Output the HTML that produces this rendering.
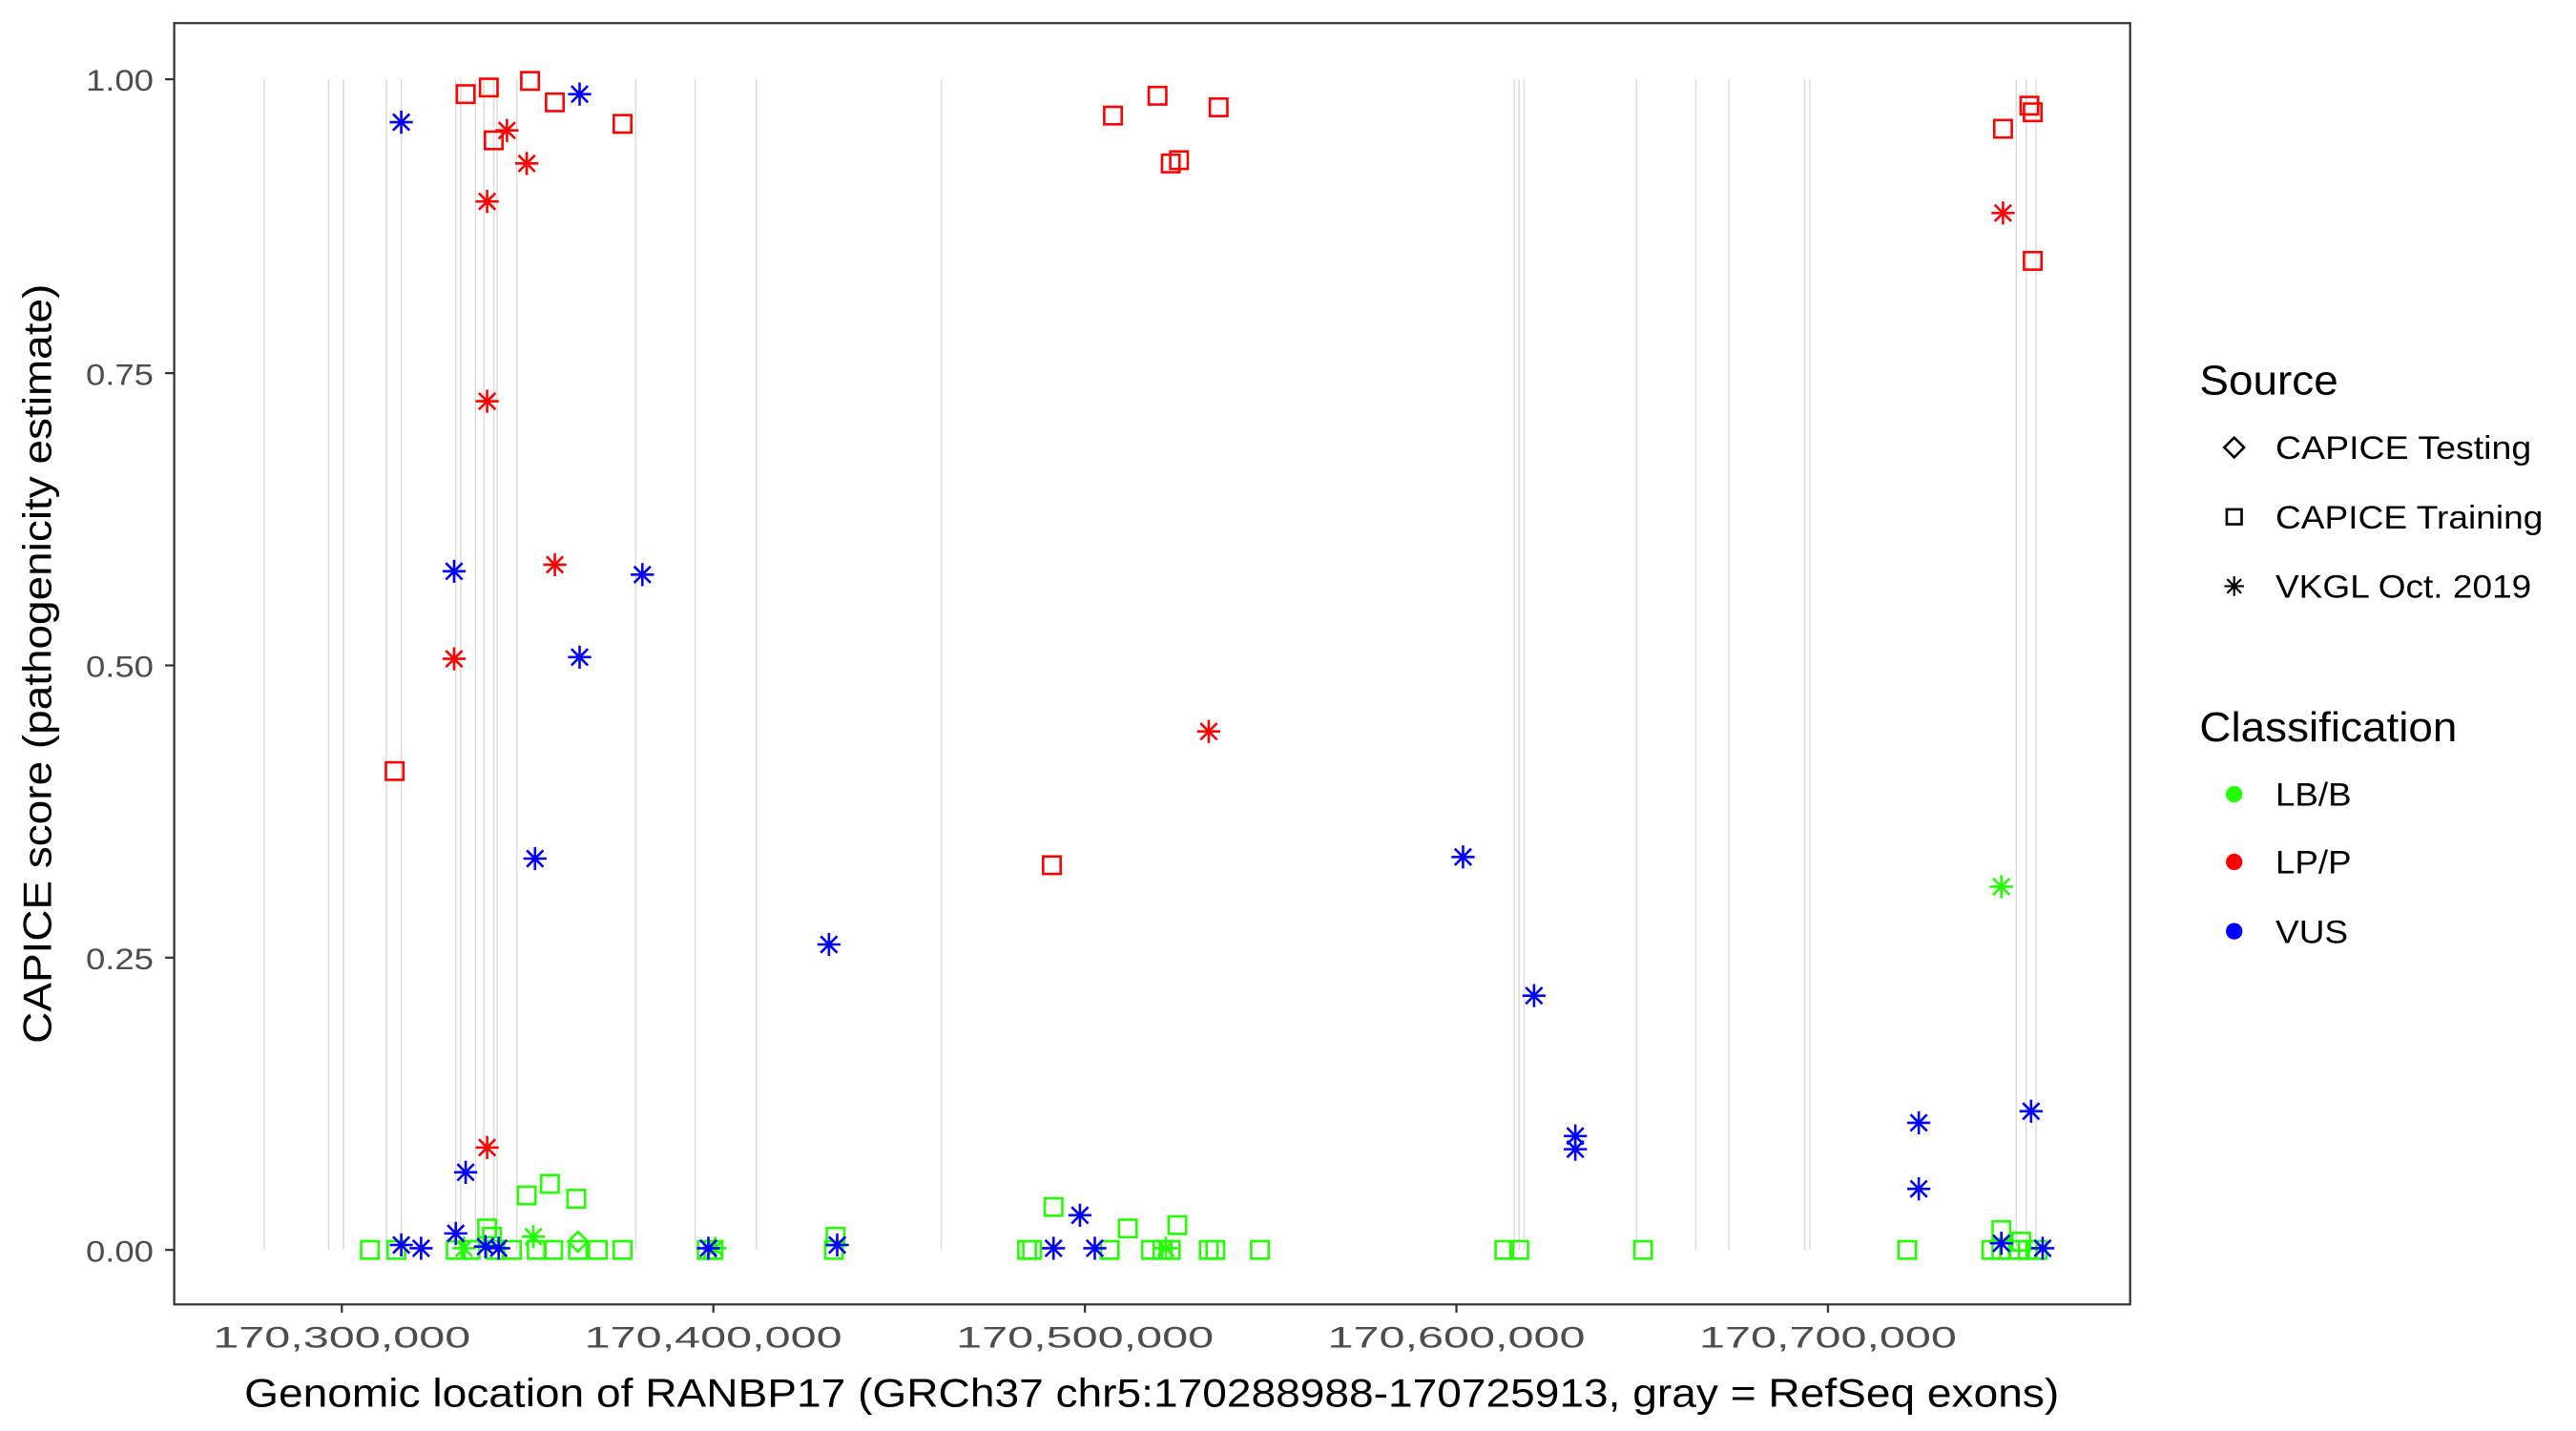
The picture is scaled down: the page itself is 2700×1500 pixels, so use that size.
<!DOCTYPE html>
<html><head><meta charset="utf-8"><style>html,body{margin:0;padding:0;background:#fff}svg{display:block}</style></head>
<body>
<svg width="2700" height="1500" viewBox="0 0 1560 866.67" preserveAspectRatio="none" xmlns="http://www.w3.org/2000/svg" xmlns:xlink="http://www.w3.org/1999/xlink" font-family="Liberation Sans, Arial, sans-serif">
<defs>
<g id="sq"><rect x="-5.3" y="-5.3" width="10.6" height="10.6" fill="none" stroke-width="1.5"/></g>
<g id="st" stroke-width="1.5"><line x1="-7" y1="0" x2="7" y2="0"/><line x1="0" y1="-7" x2="0" y2="7"/><line x1="-5" y1="-5" x2="5" y2="5"/><line x1="-5" y1="5" x2="5" y2="-5"/></g>
</defs>
<rect width="1560" height="866.67" fill="#fff"/>
<g stroke="#d9d9d9" stroke-width="0.8">
<line x1="160" y1="48" x2="160" y2="757"/><line x1="199" y1="48" x2="199" y2="757"/><line x1="208" y1="48" x2="208" y2="757"/><line x1="234" y1="48" x2="234" y2="757"/><line x1="243" y1="48" x2="243" y2="757"/><line x1="276" y1="48" x2="276" y2="757"/><line x1="279" y1="48" x2="279" y2="757"/><line x1="288" y1="48" x2="288" y2="757"/><line x1="293" y1="48" x2="293" y2="757"/><line x1="299" y1="48" x2="299" y2="757"/><line x1="301" y1="48" x2="301" y2="757"/><line x1="313" y1="48" x2="313" y2="757"/><line x1="385" y1="48" x2="385" y2="757"/><line x1="421" y1="48" x2="421" y2="757"/><line x1="458" y1="48" x2="458" y2="757"/><line x1="570" y1="48" x2="570" y2="757"/><line x1="917" y1="48" x2="917" y2="757"/><line x1="920" y1="48" x2="920" y2="757"/><line x1="923" y1="48" x2="923" y2="757"/><line x1="991" y1="48" x2="991" y2="757"/><line x1="1027" y1="48" x2="1027" y2="757"/><line x1="1047" y1="48" x2="1047" y2="757"/><line x1="1093" y1="48" x2="1093" y2="757"/><line x1="1096" y1="48" x2="1096" y2="757"/><line x1="1221" y1="48" x2="1221" y2="757"/><line x1="1227" y1="48" x2="1227" y2="757"/><line x1="1233" y1="48" x2="1233" y2="757"/>
</g>
<g stroke="#22ff00">
<use xlink:href="#sq" x="224" y="757"/><use xlink:href="#sq" x="240" y="757"/><use xlink:href="#sq" x="276" y="757"/><use xlink:href="#sq" x="285" y="757"/><use xlink:href="#sq" x="300" y="757"/><use xlink:href="#sq" x="310" y="757"/><use xlink:href="#sq" x="325" y="757"/><use xlink:href="#sq" x="335" y="757"/><use xlink:href="#sq" x="350" y="757"/><use xlink:href="#sq" x="362" y="757"/><use xlink:href="#sq" x="377" y="757"/><use xlink:href="#sq" x="428" y="757"/><use xlink:href="#sq" x="432" y="757"/><use xlink:href="#sq" x="505" y="757"/><use xlink:href="#sq" x="622" y="757"/><use xlink:href="#sq" x="625" y="757"/><use xlink:href="#sq" x="672" y="757"/><use xlink:href="#sq" x="697" y="757"/><use xlink:href="#sq" x="704" y="757"/><use xlink:href="#sq" x="709" y="757"/><use xlink:href="#sq" x="732" y="757"/><use xlink:href="#sq" x="736" y="757"/><use xlink:href="#sq" x="763" y="757"/><use xlink:href="#sq" x="911" y="757"/><use xlink:href="#sq" x="920" y="757"/><use xlink:href="#sq" x="995" y="757"/><use xlink:href="#sq" x="1155" y="757"/><use xlink:href="#sq" x="1206" y="757"/><use xlink:href="#sq" x="1212" y="757"/><use xlink:href="#sq" x="1222" y="757"/><use xlink:href="#sq" x="1228" y="757"/><use xlink:href="#sq" x="1234" y="757"/>
<use xlink:href="#sq" x="295" y="744"/><use xlink:href="#sq" x="298" y="749"/><use xlink:href="#sq" x="319" y="724"/><use xlink:href="#sq" x="333" y="717"/><use xlink:href="#sq" x="349" y="726"/><use xlink:href="#sq" x="506" y="749"/><use xlink:href="#sq" x="638" y="731"/><use xlink:href="#sq" x="683" y="744"/><use xlink:href="#sq" x="713" y="742"/><use xlink:href="#sq" x="1212" y="745"/><use xlink:href="#sq" x="1224" y="752"/>
</g>
<g stroke="#22ff00">
<use xlink:href="#st" x="1212" y="537"/><use xlink:href="#st" x="323" y="749"/><use xlink:href="#st" x="281" y="756"/><use xlink:href="#st" x="433" y="756"/><use xlink:href="#st" x="706" y="756"/>
<path d="M350 746 L356 752 L350 758 L344 752 Z" fill="none" stroke-width="1.5"/>
</g>
<g stroke="#ff0000">
<use xlink:href="#sq" x="282" y="57"/><use xlink:href="#sq" x="296" y="53"/><use xlink:href="#sq" x="321" y="49"/><use xlink:href="#sq" x="336" y="62"/><use xlink:href="#sq" x="299" y="85"/><use xlink:href="#sq" x="377" y="75"/><use xlink:href="#sq" x="239" y="467"/><use xlink:href="#sq" x="674" y="70"/><use xlink:href="#sq" x="701" y="58"/><use xlink:href="#sq" x="709" y="99"/><use xlink:href="#sq" x="714" y="97"/><use xlink:href="#sq" x="738" y="65"/><use xlink:href="#sq" x="637" y="524"/><use xlink:href="#sq" x="1213" y="78"/><use xlink:href="#sq" x="1229" y="64"/><use xlink:href="#sq" x="1231" y="68"/><use xlink:href="#sq" x="1231" y="158"/>
<use xlink:href="#st" x="307" y="79"/><use xlink:href="#st" x="295" y="122"/><use xlink:href="#st" x="319" y="99"/><use xlink:href="#st" x="295" y="243"/><use xlink:href="#st" x="336" y="342"/><use xlink:href="#st" x="275" y="399"/><use xlink:href="#st" x="295" y="695"/><use xlink:href="#st" x="732" y="443"/><use xlink:href="#st" x="1213" y="129"/>
</g>
<g stroke="#0000ff">
<use xlink:href="#st" x="243" y="74"/><use xlink:href="#st" x="351" y="57"/><use xlink:href="#st" x="275" y="346"/><use xlink:href="#st" x="389" y="348"/><use xlink:href="#st" x="351" y="398"/><use xlink:href="#st" x="324" y="520"/><use xlink:href="#st" x="502" y="572"/><use xlink:href="#st" x="282" y="710"/><use xlink:href="#st" x="276" y="747"/><use xlink:href="#st" x="243" y="754"/><use xlink:href="#st" x="255" y="756"/><use xlink:href="#st" x="294" y="755"/><use xlink:href="#st" x="302" y="756"/><use xlink:href="#st" x="429" y="756"/><use xlink:href="#st" x="507" y="754"/><use xlink:href="#st" x="638" y="756"/><use xlink:href="#st" x="654" y="736"/><use xlink:href="#st" x="663" y="756"/><use xlink:href="#st" x="886" y="519"/><use xlink:href="#st" x="929" y="603"/><use xlink:href="#st" x="954" y="688"/><use xlink:href="#st" x="954" y="696"/><use xlink:href="#st" x="1162" y="680"/><use xlink:href="#st" x="1162" y="720"/><use xlink:href="#st" x="1230" y="673"/><use xlink:href="#st" x="1212" y="753"/><use xlink:href="#st" x="1237" y="756"/>
</g>
<rect x="105.5" y="14" width="1184.5" height="776" fill="none" stroke="#333" stroke-width="1.3"/>
<g stroke="#333" stroke-width="1.3">
<line x1="100" y1="48" x2="105" y2="48"/><line x1="100" y1="226" x2="105" y2="226"/><line x1="100" y1="403" x2="105" y2="403"/><line x1="100" y1="580" x2="105" y2="580"/><line x1="100" y1="757" x2="105" y2="757"/>
<line x1="207" y1="790" x2="207" y2="795"/><line x1="432" y1="790" x2="432" y2="795"/><line x1="657" y1="790" x2="657" y2="795"/><line x1="882" y1="790" x2="882" y2="795"/><line x1="1107" y1="790" x2="1107" y2="795"/>
</g>
<g fill="#4d4d4d" font-size="18" lengthAdjust="spacingAndGlyphs">
<text x="52" y="55" textLength="41" lengthAdjust="spacingAndGlyphs">1.00</text><text x="52" y="233" textLength="41" lengthAdjust="spacingAndGlyphs">0.75</text><text x="52" y="410" textLength="41" lengthAdjust="spacingAndGlyphs">0.50</text><text x="52" y="587" textLength="41" lengthAdjust="spacingAndGlyphs">0.25</text><text x="52" y="764" textLength="41" lengthAdjust="spacingAndGlyphs">0.00</text>
</g>
<g fill="#4d4d4d" font-size="18">
<text x="129" y="816" textLength="156" lengthAdjust="spacingAndGlyphs">170,300,000</text><text x="354" y="816" textLength="156" lengthAdjust="spacingAndGlyphs">170,400,000</text><text x="579" y="816" textLength="156" lengthAdjust="spacingAndGlyphs">170,500,000</text><text x="804" y="816" textLength="156" lengthAdjust="spacingAndGlyphs">170,600,000</text><text x="1029" y="816" textLength="156" lengthAdjust="spacingAndGlyphs">170,700,000</text>
</g>
<text x="148" y="852" font-size="24" textLength="1099" lengthAdjust="spacingAndGlyphs" fill="#000">Genomic location of RANBP17 (GRCh37 chr5:170288988-170725913, gray = RefSeq exons)</text>
<text transform="translate(31,632) rotate(-90)" font-size="24" textLength="460" lengthAdjust="spacingAndGlyphs" fill="#000">CAPICE score (pathogenicity estimate)</text>
<text x="1332" y="239" font-size="25" textLength="84" lengthAdjust="spacingAndGlyphs">Source</text>
<path d="M1353 265 L1359 271 L1353 277 L1347 271 Z" fill="none" stroke="#000" stroke-width="1.5"/>
<rect x="1348.5" y="308.5" width="9" height="9" fill="none" stroke="#000" stroke-width="1.5"/>
<g stroke="#000" transform="translate(1353,355) scale(0.85)"><use xlink:href="#st"/></g>
<g font-size="20">
<text x="1378" y="278" textLength="155" lengthAdjust="spacingAndGlyphs">CAPICE Testing</text>
<text x="1378" y="320" textLength="162" lengthAdjust="spacingAndGlyphs">CAPICE Training</text>
<text x="1378" y="362" textLength="155" lengthAdjust="spacingAndGlyphs">VKGL Oct. 2019</text></g>
<text x="1332" y="449" font-size="25" textLength="156" lengthAdjust="spacingAndGlyphs">Classification</text>
<circle cx="1353" cy="481" r="5" fill="#22ff00"/><circle cx="1353" cy="522" r="5" fill="#ff0000"/><circle cx="1353" cy="564" r="5" fill="#0000ff"/>
<g font-size="20"><text x="1378" y="488" textLength="46" lengthAdjust="spacingAndGlyphs">LB/B</text><text x="1378" y="529" textLength="46" lengthAdjust="spacingAndGlyphs">LP/P</text><text x="1378" y="571" textLength="44" lengthAdjust="spacingAndGlyphs">VUS</text></g>
</svg>
</body></html>
